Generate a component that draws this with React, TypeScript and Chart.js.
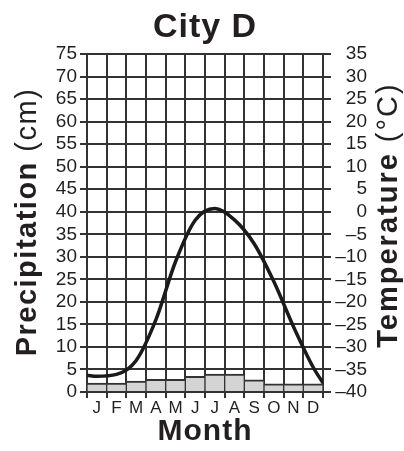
import React, { useEffect, useRef } from 'react';
import { Chart, registerables } from 'chart.js';

Chart.register(...registerables);

// ---- Data ----
const MONTHS = ['J', 'F', 'M', 'A', 'M', 'J', 'J', 'A', 'S', 'O', 'N', 'D'];
const PRECIPITATION_CM = [2.0, 2.0, 2.4, 2.8, 2.8, 3.5, 4.0, 4.0, 2.7, 1.8, 1.8, 1.8];
// temperature curve: positions in months (0 = left edge of Jan, 12 = right edge of Dec)
const TEMP_POSITIONS = [0, 0.5, 1.5, 2.5, 3.5, 4.5, 5.5, 6.5, 7.5, 8.5, 9.5, 10.5, 11.5, 12];
const TEMPERATURE_C = [-36.3, -36.5, -36.1, -33, -24, -11.1, -1.9, 0.7, -1.8, -7.1, -15.5, -25.5, -34.5, -38];
const PRECIP_MIN = 0;
const PRECIP_MAX = 75;
const TEMP_MIN = -40;
const TEMP_MAX = 35;
const TICK_STEP = 5;

const FONT = '"Liberation Sans", Arial, Helvetica, sans-serif';
const INK = '#231f20';
const GRID = '#333333';

function drawRotated(
  ctx: CanvasRenderingContext2D,
  boldPart: string,
  normalPart: string,
  baselineX: number,
  centerY: number,
  size: number,
  spacing: number
) {
  ctx.save();
  ctx.translate(baselineX, centerY);
  ctx.rotate(-Math.PI / 2);
  (ctx as any).letterSpacing = `${spacing}px`;
  ctx.textAlign = 'left';
  ctx.textBaseline = 'alphabetic';
  ctx.font = `bold ${size}px ${FONT}`;
  const w1 = ctx.measureText(boldPart).width;
  ctx.font = `${size}px ${FONT}`;
  const w2 = ctx.measureText(normalPart).width;
  const start = -(w1 + w2) / 2;
  ctx.font = `bold ${size}px ${FONT}`;
  ctx.fillText(boldPart, start, 0);
  ctx.font = `${size}px ${FONT}`;
  ctx.fillText(normalPart, start + w1, 0);
  ctx.restore();
}

const textPlugin = {
  id: 'chartTexts',
  afterDraw(chart: any) {
    const ctx: CanvasRenderingContext2D = chart.ctx;
    ctx.save();
    ctx.fillStyle = INK;
    ctx.textAlign = 'center';
    ctx.textBaseline = 'alphabetic';
    (ctx as any).letterSpacing = '1px';
    ctx.font = `bold 34px ${FONT}`;
    ctx.fillText('City D', 205, 37);
    ctx.font = `bold 30px ${FONT}`;
    ctx.fillText('Month', 205, 440);
    (ctx as any).letterSpacing = '0px';
    drawRotated(ctx, 'Precipitation ', '(cm)', 36, 222, 29, 1.5);
    drawRotated(ctx, 'Temperature ', '(°C)', 397, 215, 29, 2);
    ctx.restore();
  },
};

export default function App() {
  const ref = useRef<HTMLCanvasElement>(null);

  useEffect(() => {
    if (!ref.current) return;
    const chart = new Chart(ref.current, {
      type: 'bar',
      data: {
        labels: MONTHS,
        datasets: [
          {
            type: 'line',
            label: 'Temperature',
            data: TEMP_POSITIONS.map((x, i) => ({ x, y: TEMPERATURE_C[i] })),
            xAxisID: 'xLine',
            yAxisID: 'yTemp',
            borderColor: '#1a1a1a',
            borderWidth: 3.5,
            pointRadius: 0,
            cubicInterpolationMode: 'monotone',
            fill: false,
            order: 0,
          } as any,
          {
            type: 'bar',
            label: 'Precipitation',
            data: PRECIPITATION_CM,
            xAxisID: 'x',
            yAxisID: 'yPrecip',
            backgroundColor: '#d4d4d4',
            borderColor: GRID,
            borderWidth: { top: 2, left: 1, right: 1, bottom: 0 },
            barPercentage: 1,
            categoryPercentage: 1,
            grouped: false,
            order: 1,
          } as any,
        ],
      },
      options: {
        responsive: false,
        animation: false,
        layout: { padding: { left: 27, right: 37, top: 54, bottom: 29 } },
        plugins: {
          legend: { display: false },
          tooltip: { enabled: false },
          title: { display: false },
        },
        scales: {
          x: {
            type: 'category',
            position: 'bottom',
            offset: true,
            grid: { offset: true, color: GRID, lineWidth: 2, tickLength: 6, tickColor: GRID },
            border: { color: GRID, width: 2 },
            ticks: {
              font: { family: FONT, size: 17 },
              color: INK,
              padding: 0,
              maxRotation: 0,
              autoSkip: false,
            },
            afterFit: (s: any) => {
              s.height = 30;
            },
          },
          xLine: { type: 'linear', display: false, offset: false, min: 0, max: 12 },
          yPrecip: {
            type: 'linear',
            position: 'left',
            min: PRECIP_MIN,
            max: PRECIP_MAX,
            ticks: {
              stepSize: TICK_STEP,
              autoSkip: false,
              font: { family: FONT, size: 19 },
              color: INK,
              padding: 3,
            },
            grid: { color: GRID, lineWidth: 2, tickLength: 7, tickColor: GRID },
            border: { color: GRID, width: 2 },
            afterFit: (s: any) => {
              s.width = 60;
            },
          },
          yTemp: {
            type: 'linear',
            position: 'right',
            min: TEMP_MIN,
            max: TEMP_MAX,
            ticks: {
              stepSize: TICK_STEP,
              autoSkip: false,
              crossAlign: 'far',
              font: { family: FONT, size: 19 },
              color: INK,
              padding: 4,
              callback: (v: any) => (Number(v) < 0 ? '\u2013' + Math.abs(Number(v)) : String(v)),
            },
            grid: { drawOnChartArea: false, color: GRID, lineWidth: 2, tickLength: 8, tickColor: GRID },
            border: { color: GRID, width: 2 },
            afterFit: (s: any) => {
              s.width = 44;
            },
          },
        },
      } as any,
      plugins: [textPlugin],
    });
    return () => chart.destroy();
  }, []);

  return (
    <div style={{ position: 'absolute', left: 0, top: 0, width: 404, height: 451, background: '#fff' }}>
      <canvas ref={ref} width={404} height={451} style={{ display: 'block' }} />
    </div>
  );
}
